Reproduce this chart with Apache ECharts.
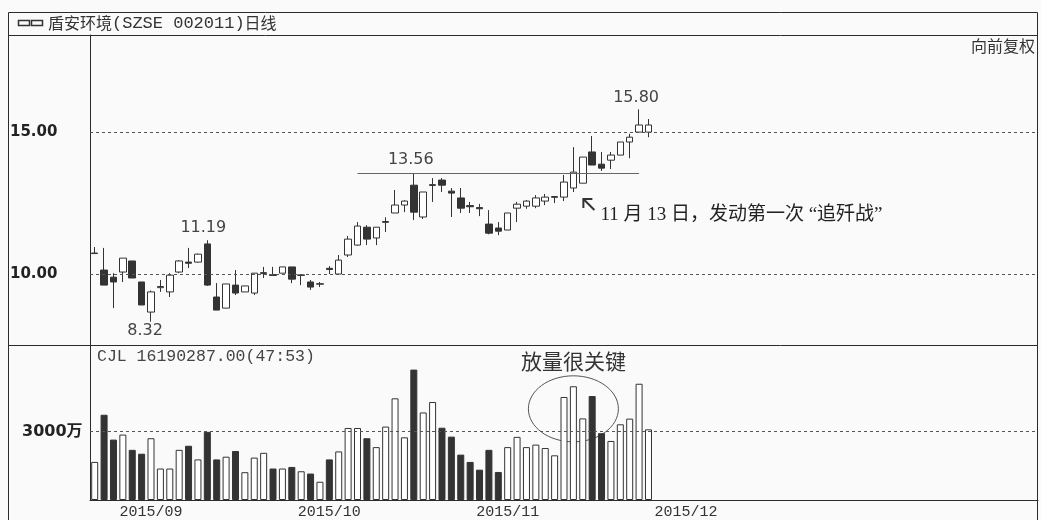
<!DOCTYPE html>
<html><head><meta charset="utf-8">
<script src="https://cdn.jsdelivr.net/npm/echarts@6/dist/echarts.min.js"></script>
<style>html,body{margin:0;padding:0;background:#fafafa}#c{width:1041px;height:520px}</style>
</head><body><div id="c"></div>
<script>
// ---- data ----
const opens  = [10.72,10.14,9.89,10.07,10.46,9.72,8.66,9.52,9.37,10.07,10.42,10.42,11.06,9.19,8.80,9.61,9.37,9.33,10.02,9.98,10.03,10.25,9.95,9.72,9.64,10.20,10.00,10.67,11.02,11.65,11.27,11.82,12.15,12.43,13.13,12.01,13.12,13.31,12.92,12.68,12.41,12.34,11.76,11.62,11.55,12.32,12.39,12.39,12.57,12.70,12.71,13.03,13.20,14.30,13.87,14.01,14.19,14.65,15.00,15.00];
const closes = [10.74,9.61,9.72,10.56,9.86,8.91,9.37,9.56,9.96,10.46,10.38,10.70,9.61,8.73,9.65,9.33,9.58,10.03,10.05,9.95,10.25,9.82,9.97,9.54,9.66,10.16,10.49,11.23,11.69,11.23,11.65,11.85,12.43,12.57,12.18,12.89,13.15,13.13,12.85,12.32,12.37,12.30,11.44,11.51,12.15,12.46,12.57,12.68,12.71,12.73,13.24,13.59,14.12,13.84,13.73,14.19,14.65,14.82,15.25,15.25];
const lows   = [10.72,9.61,8.80,9.72,9.86,8.91,8.32,9.37,9.19,10.03,10.21,10.40,9.58,8.73,8.80,9.26,9.37,9.26,9.86,9.95,10.03,9.68,9.61,9.44,9.54,10.00,10.00,10.60,11.00,11.02,11.02,11.48,12.15,12.18,11.90,11.94,12.54,12.89,12.01,12.15,12.15,12.04,11.40,11.37,11.55,11.83,12.30,12.32,12.43,12.50,12.57,12.89,13.20,13.84,13.63,13.70,14.19,14.08,15.00,14.82];
const highs  = [10.95,10.92,10.03,10.56,10.46,9.72,9.42,9.79,10.03,10.49,10.92,10.72,11.19,9.68,9.65,10.14,9.58,10.03,10.25,10.25,10.25,10.25,9.97,9.79,9.72,10.28,10.67,11.34,11.83,11.72,11.65,12.00,12.96,12.60,13.56,12.89,13.38,13.38,13.03,13.03,12.54,12.47,12.25,11.83,12.15,12.54,12.60,12.78,12.82,12.73,13.49,14.47,14.12,14.86,14.30,14.30,14.65,14.94,15.80,15.46];
const volumes = [1670,3740,2650,2870,2200,2030,2710,1380,1380,2200,2380,1780,2990,1780,1900,2150,1220,1860,2070,1380,1380,1450,1260,1160,800,1780,2130,3160,3160,2710,2320,3220,4460,2750,5720,3840,4300,3170,2780,1990,1670,1330,2200,1230,2320,2770,2320,2430,2280,1960,4520,4990,3580,4560,2930,2590,3320,3570,5100,3100];
const slotCount = 101;
const categories = Array.from({length: slotCount}, (_, i) => 'D' + (i + 1));
const tickIdx  = [6, 25, 44, 63];
const tickText = ['2015/09', '2015/10', '2015/11', '2015/12'];
const priceTicks = [10, 15];
const volTick = 3000;

const candleData = opens.map((o, i) => [o, closes[i], lows[i], highs[i]]);
const INK = '#2b2b2b';
const chart = echarts.init(document.getElementById('c'));
chart.setOption({
  animation: false,
  backgroundColor: '#fafafa',
  grid: [
    {left: 90, top: 35, width: 948, height: 310},
    {left: 90, top: 345, width: 948, height: 157}
  ],
  xAxis: [
    {type: 'category', gridIndex: 0, data: categories, boundaryGap: true,
     axisLine: {show: false}, axisTick: {show: false}, axisLabel: {show: false}, splitLine: {show: false}},
    {type: 'category', gridIndex: 1, data: categories, boundaryGap: true,
     axisLine: {show: true, lineStyle: {color: INK, width: 1}}, axisTick: {show: false},
     axisLabel: {show: true, interval: (i) => tickIdx.includes(i),
       formatter: (v, i) => { const k = tickIdx.indexOf(i); return k >= 0 ? tickText[k] : ''; },
       fontFamily: 'Liberation Mono', fontSize: 15, color: '#333', margin: 5},
     splitLine: {show: false}}
  ],
  yAxis: [
    {type: 'value', gridIndex: 0, min: 7.5, max: 18.42, interval: 2.5,
     axisLine: {show: true, lineStyle: {color: INK}}, axisTick: {show: false}, splitLine: {show: false},
     axisLabel: {formatter: v => priceTicks.some(t => Math.abs(t - v) < 1e-6) ? v.toFixed(2) : '',
       align: 'left', margin: 80, fontWeight: 'bold', fontSize: 15, fontFamily: 'DejaVu Sans', color: '#222'}},
    {type: 'value', gridIndex: 1, min: 0, max: 6800, interval: 3000,
     axisLine: {show: true, lineStyle: {color: INK}}, axisTick: {show: false}, splitLine: {show: false},
     axisLabel: {formatter: v => Math.abs(v - volTick) < 1e-6 ? v + '万' : '',
       align: 'left', margin: 68, fontWeight: 'bold', fontSize: 16, fontFamily: "'DejaVu Sans','Noto Sans CJK SC'", color: '#222'}}
  ],
  series: [
    {type: 'candlestick', xAxisIndex: 0, yAxisIndex: 0, data: candleData, barWidth: 7,
     itemStyle: {color: '#ffffff', color0: '#333333', borderColor: '#333333', borderColor0: '#333333', borderWidth: 1},
     markLine: {silent: true, symbol: 'none', animation: false, label: {show: false},
       data: [
         {yAxis: priceTicks[0], lineStyle: {type: [3, 3], color: '#555', width: 1}},
         {yAxis: priceTicks[1], lineStyle: {type: [3, 3], color: '#555', width: 1}},
         [{coord: [28, 13.56], lineStyle: {type: 'solid', color: '#666', width: 1}}, {coord: [58, 13.56]}]
       ]}},
    {type: 'bar', xAxisIndex: 1, yAxisIndex: 1, data: volumes, barWidth: 7,
     itemStyle: {color: p => closes[p.dataIndex] >= opens[p.dataIndex] ? '#ffffff' : '#333333', borderColor: '#333333', borderWidth: 1},
     markLine: {silent: true, symbol: 'none', animation: false, label: {show: false},
       data: [{yAxis: volTick, lineStyle: {type: [3, 3], color: '#555', width: 1}}]}}
  ]
});

const P = (i, v) => chart.convertToPixel({xAxisIndex: 0, yAxisIndex: 0}, [i, v]);
const V = (i, v) => chart.convertToPixel({xAxisIndex: 1, yAxisIndex: 1}, [i, v]);
const numFont = {fontFamily: 'DejaVu Sans', fontSize: 16, fill: '#444', align: 'center', verticalAlign: 'middle'};
const hi = P(58, highs[58]), top1 = P(34, highs[34]), hi2 = P(12, highs[12]), lo = P(6, lows[6]);
const arr = P(51, lows[51]);
const ell = V(51, 4000);
const g = [
  {type: 'rect', shape: {x: 8.5, y: 12.5, width: 1029, height: 520}, style: {fill: 'none', stroke: INK, lineWidth: 1}},
  {type: 'line', shape: {x1: 8, y1: 35.5, x2: 1038, y2: 35.5}, style: {stroke: INK, lineWidth: 1}},
  {type: 'line', shape: {x1: 8, y1: 345.5, x2: 1038, y2: 345.5}, style: {stroke: INK, lineWidth: 1}},
  {type: 'rect', shape: {x: 18.5, y: 20.5, width: 11, height: 5}, style: {fill: 'none', stroke: '#333', lineWidth: 1.5}},
  {type: 'rect', shape: {x: 31.5, y: 20.5, width: 11, height: 5}, style: {fill: 'none', stroke: '#333', lineWidth: 1.5}},
  {type: 'text', x: 48, y: 23, style: {text: '{c|盾安环境}{e|(SZSE 002011)}{c|日线}', verticalAlign: 'middle',
     rich: {c: {fontFamily: 'Noto Sans CJK SC', fontSize: 16, fill: '#333'}, e: {fontFamily: 'Liberation Mono', fontSize: 17, fill: '#333'}}}},
  {type: 'text', x: 1035, y: 46, style: {text: '向前复权', fontFamily: 'Noto Sans CJK SC', fontSize: 16, fill: '#333', align: 'right', verticalAlign: 'middle'}},
  {type: 'text', x: 97, y: 357, style: {text: 'CJL 16190287.00(47:53)', fontFamily: 'Liberation Mono', fontSize: 16.5, fill: '#444', verticalAlign: 'middle'}},
  {type: 'text', x: hi[0] - 3, y: hi[1] - 12, style: Object.assign({text: '15.80'}, numFont)},
  {type: 'text', x: top1[0] - 3, y: top1[1] - 13, style: Object.assign({text: '13.56'}, numFont)},
  {type: 'text', x: hi2[0] - 4, y: hi2[1] - 12, style: Object.assign({text: '11.19'}, numFont)},
  {type: 'text', x: lo[0] - 6, y: lo[1] + 9, style: Object.assign({text: '8.32'}, numFont)},
  {type: 'polyline', shape: {points: [[arr[0] + 10, arr[1] + 16], [arr[0] + 10, arr[1] + 7], [arr[0] + 19, arr[1] + 7]]}, style: {fill: 'none', stroke: '#333', lineWidth: 2}},
  {type: 'line', shape: {x1: arr[0] + 10, y1: arr[1] + 7, x2: arr[0] + 21, y2: arr[1] + 18}, style: {stroke: '#333', lineWidth: 2}},
  {type: 'text', x: arr[0] + 27, y: arr[1] + 23, style: {text: '11 月 13 日，发动第一次 “追歼战”', fontFamily: "'Liberation Serif','Noto Sans CJK SC'", fontSize: 19, fill: '#222', verticalAlign: 'middle'}},
  {type: 'ellipse', shape: {cx: ell[0], cy: ell[1], rx: 45, ry: 33}, style: {fill: 'none', stroke: '#555', lineWidth: 1}},
  {type: 'text', x: ell[0], y: ell[1] - 48, style: {text: '放量很关键', fontFamily: 'Noto Sans CJK SC', fontSize: 21, fill: '#333', align: 'center', verticalAlign: 'middle'}}
];
chart.setOption({graphic: g});
</script></body></html>
